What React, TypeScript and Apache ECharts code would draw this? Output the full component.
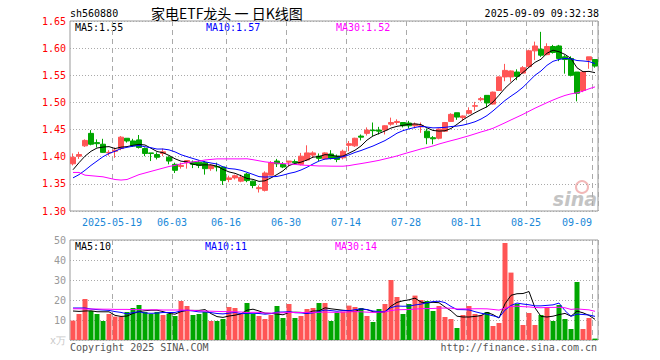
import React, { useEffect, useRef } from 'react';
import * as echarts from 'echarts';

const dates = [
  '2025-05-08','2025-05-09','2025-05-12','2025-05-13','2025-05-14','2025-05-15','2025-05-16',
  '2025-05-19','2025-05-20','2025-05-21','2025-05-22','2025-05-23',
  '2025-05-26','2025-05-27','2025-05-28','2025-05-29','2025-05-30',
  '2025-06-03','2025-06-04','2025-06-05','2025-06-06',
  '2025-06-09','2025-06-10','2025-06-11','2025-06-12','2025-06-13',
  '2025-06-16','2025-06-17','2025-06-18','2025-06-19','2025-06-20',
  '2025-06-23','2025-06-24','2025-06-25','2025-06-26','2025-06-27',
  '2025-06-30','2025-07-01','2025-07-02','2025-07-03','2025-07-04',
  '2025-07-07','2025-07-08','2025-07-09','2025-07-10','2025-07-11',
  '2025-07-14','2025-07-15','2025-07-16','2025-07-17','2025-07-18',
  '2025-07-21','2025-07-22','2025-07-23','2025-07-24','2025-07-25',
  '2025-07-28','2025-07-29','2025-07-30','2025-07-31','2025-08-01',
  '2025-08-04','2025-08-05','2025-08-06','2025-08-07','2025-08-08',
  '2025-08-11','2025-08-12','2025-08-13','2025-08-14','2025-08-15',
  '2025-08-18','2025-08-19','2025-08-20','2025-08-21','2025-08-22',
  '2025-08-25','2025-08-26','2025-08-27','2025-08-28','2025-08-29',
  '2025-09-01','2025-09-02','2025-09-03','2025-09-04','2025-09-05',
  '2025-09-08','2025-09-09',
];

const opens = [
  1.387,1.401,1.420,1.443,1.426,1.423,1.407,1.410,1.415,1.434,
  1.429,1.431,1.415,1.407,1.404,1.406,1.399,1.386,1.382,1.389,
  1.390,1.390,1.389,1.378,1.382,1.381,1.358,1.361,1.355,1.368,
  1.355,1.341,1.338,1.366,1.392,1.386,1.390,1.391,1.386,1.394,
  1.403,1.401,1.396,1.405,1.401,1.398,1.421,1.420,1.438,1.443,
  1.449,1.449,1.449,1.460,1.463,1.463,1.462,1.457,1.455,1.447,
  1.435,1.434,1.447,1.465,1.481,1.472,1.480,1.493,1.505,1.513,
  1.497,1.522,1.547,1.547,1.556,1.554,1.566,1.595,1.598,1.588,
  1.603,1.604,1.584,1.581,1.556,1.522,1.578,1.579,
];
const closes = [
  1.399,1.404,1.430,1.423,1.424,1.408,1.408,1.412,1.436,1.429,
  1.420,1.417,1.406,1.406,1.399,1.409,1.392,1.375,1.384,1.393,
  1.386,1.384,1.378,1.384,1.381,1.356,1.361,1.365,1.362,1.356,
  1.347,1.343,1.370,1.389,1.387,1.381,1.392,1.389,1.401,1.407,
  1.407,1.397,1.407,1.397,1.395,1.410,1.424,1.434,1.436,1.449,
  1.448,1.447,1.457,1.463,1.465,1.457,1.457,1.460,1.457,1.435,
  1.433,1.451,1.463,1.478,1.473,1.475,1.485,1.494,1.507,1.499,
  1.519,1.547,1.559,1.558,1.548,1.564,1.595,1.604,1.587,1.603,
  1.592,1.581,1.579,1.550,1.517,1.556,1.584,1.567,
];
const lows = [
  1.384,1.396,1.418,1.421,1.417,1.407,1.402,1.398,1.412,1.426,
  1.418,1.415,1.401,1.392,1.395,1.401,1.386,1.370,1.378,1.378,
  1.379,1.379,1.367,1.374,1.373,1.348,1.353,1.358,1.353,1.353,
  1.342,1.334,1.336,1.366,1.381,1.379,1.382,1.386,1.384,1.392,
  1.398,1.392,1.395,1.395,1.390,1.395,1.410,1.418,1.430,1.439,
  1.438,1.441,1.441,1.457,1.459,1.454,1.452,1.452,1.444,1.423,
  1.423,1.432,1.446,1.464,1.468,1.466,1.478,1.485,1.502,1.491,
  1.496,1.521,1.539,1.538,1.541,1.553,1.564,1.578,1.584,1.587,
  1.590,1.576,1.553,1.548,1.502,1.519,1.562,1.564,
];
const highs = [
  1.406,1.409,1.432,1.449,1.432,1.433,1.412,1.417,1.438,1.434,
  1.433,1.440,1.417,1.407,1.408,1.415,1.401,1.389,1.389,1.393,
  1.393,1.393,1.392,1.386,1.389,1.382,1.365,1.367,1.367,1.370,
  1.356,1.347,1.373,1.392,1.396,1.390,1.392,1.395,1.407,1.421,
  1.410,1.406,1.408,1.412,1.404,1.413,1.429,1.435,1.441,1.454,
  1.463,1.455,1.458,1.472,1.469,1.463,1.466,1.463,1.463,1.452,
  1.438,1.452,1.464,1.480,1.481,1.476,1.491,1.501,1.510,1.513,
  1.520,1.548,1.571,1.559,1.561,1.567,1.597,1.612,1.630,1.609,
  1.606,1.606,1.587,1.585,1.556,1.558,1.584,1.579,
];
// volume, unit: 万
const volumes = [
  9.7,13,20.5,14.5,13,9.5,13,11.7,11.7,14,
  16,17.5,14,13,14,12.5,13,12,19.5,17,
  12.5,13,14,9.5,9.5,10.5,16.5,16,13,18.5,
  13,12,10.5,12.5,17,11,18,11,12,15.5,
  16,18.5,18.5,9.5,13.7,14.2,17.2,16.5,16,12,
  9,15.5,18,30,21.5,13,18,22.2,20,19.5,
  14.5,17,11.5,10.5,6,12.5,17,13,12.5,14,
  7,8.5,48.5,33.7,18,7.5,13.5,7.5,12.5,16.5,
  9.5,17.5,10.5,5.5,29,5.5,11,0.7,
];

// moving-average values for bars before the window fills
const ma5Head = [1.376, 1.389, 1.401, 1.410];
const ma10Head = [1.361, 1.367, 1.375, 1.384, 1.392, 1.400, 1.406, 1.410, 1.415];
const ma30Head = [
  1.371,1.371,1.366,1.365,1.364,1.363,1.3605,1.358,1.357,1.358,
  1.3625,1.367,1.370,1.373,1.376,1.379,1.382,1.384,1.387,1.389,
  1.3905,1.392,1.394,1.395,1.396,1.396,1.396,1.396,1.396,
];
const volMa5Head = [14.5, 14.3, 14.5, 14.6];
const volMa10Head = [16, 16, 16, 15.5, 15.2, 15.0, 14.8, 14.2, 13.8];
const volMa30Head = [
  15.6,15.6,15.5,15.5,15.5,15.4,15.4,15.3,15.3,15.3,
  15.2,15.2,15.1,15.1,15.1,15.0,15.0,15.0,15.0,14.9,
  14.8,14.6,14.5,14.4,14.3,14.2,14.2,14.1,14.0,
];

const tickDates = ['2025-05-19','2025-06-03','2025-06-16','2025-06-30','2025-07-14','2025-07-28','2025-08-11','2025-08-25','2025-09-09'];
const tickTexts = ['2025-05-19','06-03','06-16','06-30','07-14','07-28','08-11','08-25','09-09'];

const priceLegend = ['MA5:1.55', 'MA10:1.57', 'MA30:1.52'];
const volLegend = ['MA5:10', 'MA10:11', 'MA30:14'];

const upColor = '#ff5555';
const downColor = '#00a600';
const MONO = '"DejaVu Sans Mono", "Liberation Mono", monospace';

function movingAvg(values: number[], n: number, head: number[]) {
  return values.map((_, i) => {
    if (i < n - 1) return head[i];
    let s = 0;
    for (let k = i - n + 1; k <= i; k++) s += values[k];
    return +(s / n).toFixed(4);
  });
}

export default function App() {
  const ref = useRef<HTMLDivElement>(null);
  useEffect(() => {
    const chart = echarts.init(ref.current!, null, { renderer: 'svg' });
    const tickIdx = new Set(tickDates.map((d) => dates.indexOf(d)));
    const tickText: Record<string, string> = {};
    tickDates.forEach((d, i) => (tickText[d] = tickTexts[i]));
    const lastDate = dates[dates.length - 1];

    const kdata = dates.map((_, i) => [opens[i], closes[i], lows[i], highs[i]]);
    const volData = volumes.map((v, i) => ({
      value: v,
      itemStyle: { color: closes[i] >= opens[i] ? upColor : downColor },
    }));

    const vSplit = {
      show: true,
      interval: (idx: number) => tickIdx.has(idx),
      lineStyle: { color: '#aaa', type: [5, 4] as any, width: 1 },
    };
    const hSplit = { show: true, lineStyle: { color: '#aaa', type: [1, 2] as any, width: 1 } };

    const lineS = (name: string, data: number[], color: string, xi: number) => ({
      name, type: 'line', data, xAxisIndex: xi, yAxisIndex: xi,
      showSymbol: false, symbol: 'none', smooth: false,
      lineStyle: { color, width: 1 }, z: 5, silent: true,
    });

    const txt = (text: string, x: number, y: number, fill: string, align = 'left', font = `10px ${MONO}`) => ({
      type: 'text', x, y, silent: true,
      style: { text, fill, font, align, verticalAlign: 'middle' },
    });

    const option: any = {
      animation: false,
      backgroundColor: '#fff',
      grid: [
        { left: 70, top: 21, width: 528, height: 190, show: true, borderColor: '#999', borderWidth: 1 },
        { left: 70, top: 240, width: 528, height: 100, show: true, borderColor: '#999', borderWidth: 1 },
      ],
      xAxis: [
        {
          type: 'category', gridIndex: 0, data: dates, boundaryGap: true,
          axisLine: { show: false }, axisTick: { show: false },
          axisLabel: {
            interval: (idx: number) => tickIdx.has(idx),
            formatter: (v: string) => (v === lastDate ? `{r|${tickText[v]}}` : tickText[v] || ''),
            color: '#1a88d8', fontFamily: MONO, fontSize: 10, margin: 6,
            padding: [0, 6, 0, 0],
            rich: { r: { color: '#1a88d8', fontFamily: MONO, fontSize: 10, padding: [0, 30, 0, 0] } },
          },
          splitLine: vSplit,
        },
        {
          type: 'category', gridIndex: 1, data: dates, boundaryGap: true,
          axisLine: { show: false }, axisTick: { show: false }, axisLabel: { show: false },
          splitLine: vSplit,
        },
      ],
      yAxis: [
        {
          type: 'value', gridIndex: 0, min: 1.3, max: 1.65, interval: 0.05,
          axisLine: { show: false }, axisTick: { show: false },
          axisLabel: { color: '#f00', fontFamily: MONO, fontSize: 10, margin: 4, formatter: (v: number) => v.toFixed(2) },
          splitLine: hSplit,
        },
        {
          type: 'value', gridIndex: 1, min: 0, max: 50, interval: 10,
          axisLine: { show: false }, axisTick: { show: false },
          axisLabel: {
            color: '#999', fontFamily: MONO, fontSize: 10, margin: 4,
            formatter: (v: number) => (v === 0 ? '{u|x万}' : String(v)),
            rich: { u: { color: '#c8c8c8', fontSize: 10, fontFamily: MONO } },
          },
          splitLine: hSplit,
        },
      ],
      series: [
        {
          type: 'candlestick', data: kdata, xAxisIndex: 0, yAxisIndex: 0, barWidth: 5,
          itemStyle: { color: upColor, color0: downColor, borderColor: upColor, borderColor0: downColor, borderWidth: 1 },
          silent: true,
        },
        lineS('MA5', movingAvg(closes, 5, ma5Head), '#000', 0),
        lineS('MA10', movingAvg(closes, 10, ma10Head), '#0000ff', 0),
        lineS('MA30', movingAvg(closes, 30, ma30Head), '#ff00ff', 0),
        { type: 'bar', data: volData, xAxisIndex: 1, yAxisIndex: 1, barWidth: 5, silent: true },
        lineS('VMA5', movingAvg(volumes, 5, volMa5Head), '#000', 1),
        lineS('VMA10', movingAvg(volumes, 10, volMa10Head), '#0000ff', 1),
        lineS('VMA30', movingAvg(volumes, 30, volMa30Head), '#ff00ff', 1),
      ],
      graphic: [
        txt('sh560880', 70, 13, '#000'),
        txt('家电ETF龙头 一 日K线图', 151, 13, '#000', 'left', '14px "Noto Sans CJK SC", sans-serif'),
        txt('2025-09-09 09:32:38', 599, 13, '#000', 'right'),
        txt(priceLegend[0], 75, 27, '#000'),
        txt(priceLegend[1], 206, 27, '#0000ff'),
        txt(priceLegend[2], 336, 27, '#ff00ff'),
        txt(volLegend[0], 75, 246, '#000'),
        txt(volLegend[1], 205, 246, '#0000ff'),
        txt(volLegend[2], 335, 246, '#ff00ff'),
        txt('Copyright 2025 SINA.COM', 70, 347, '#555'),
        txt('http://finance.sina.com.cn', 597, 347, '#555', 'right'),
        { type: 'circle', shape: { cx: 582, cy: 187, r: 6 }, silent: true, style: { fill: 'none', stroke: '#f2b8b8', lineWidth: 2 } },
        txt('sina', 597, 199, '#c4c4c4', 'right', 'italic bold 19px "DejaVu Sans", sans-serif'),
      ],
    };
    chart.setOption(option);
    return () => chart.dispose();
  }, []);
  return <div ref={ref} style={{ position: 'absolute', left: 0, top: 0, width: 660, height: 360 }} />;
}
